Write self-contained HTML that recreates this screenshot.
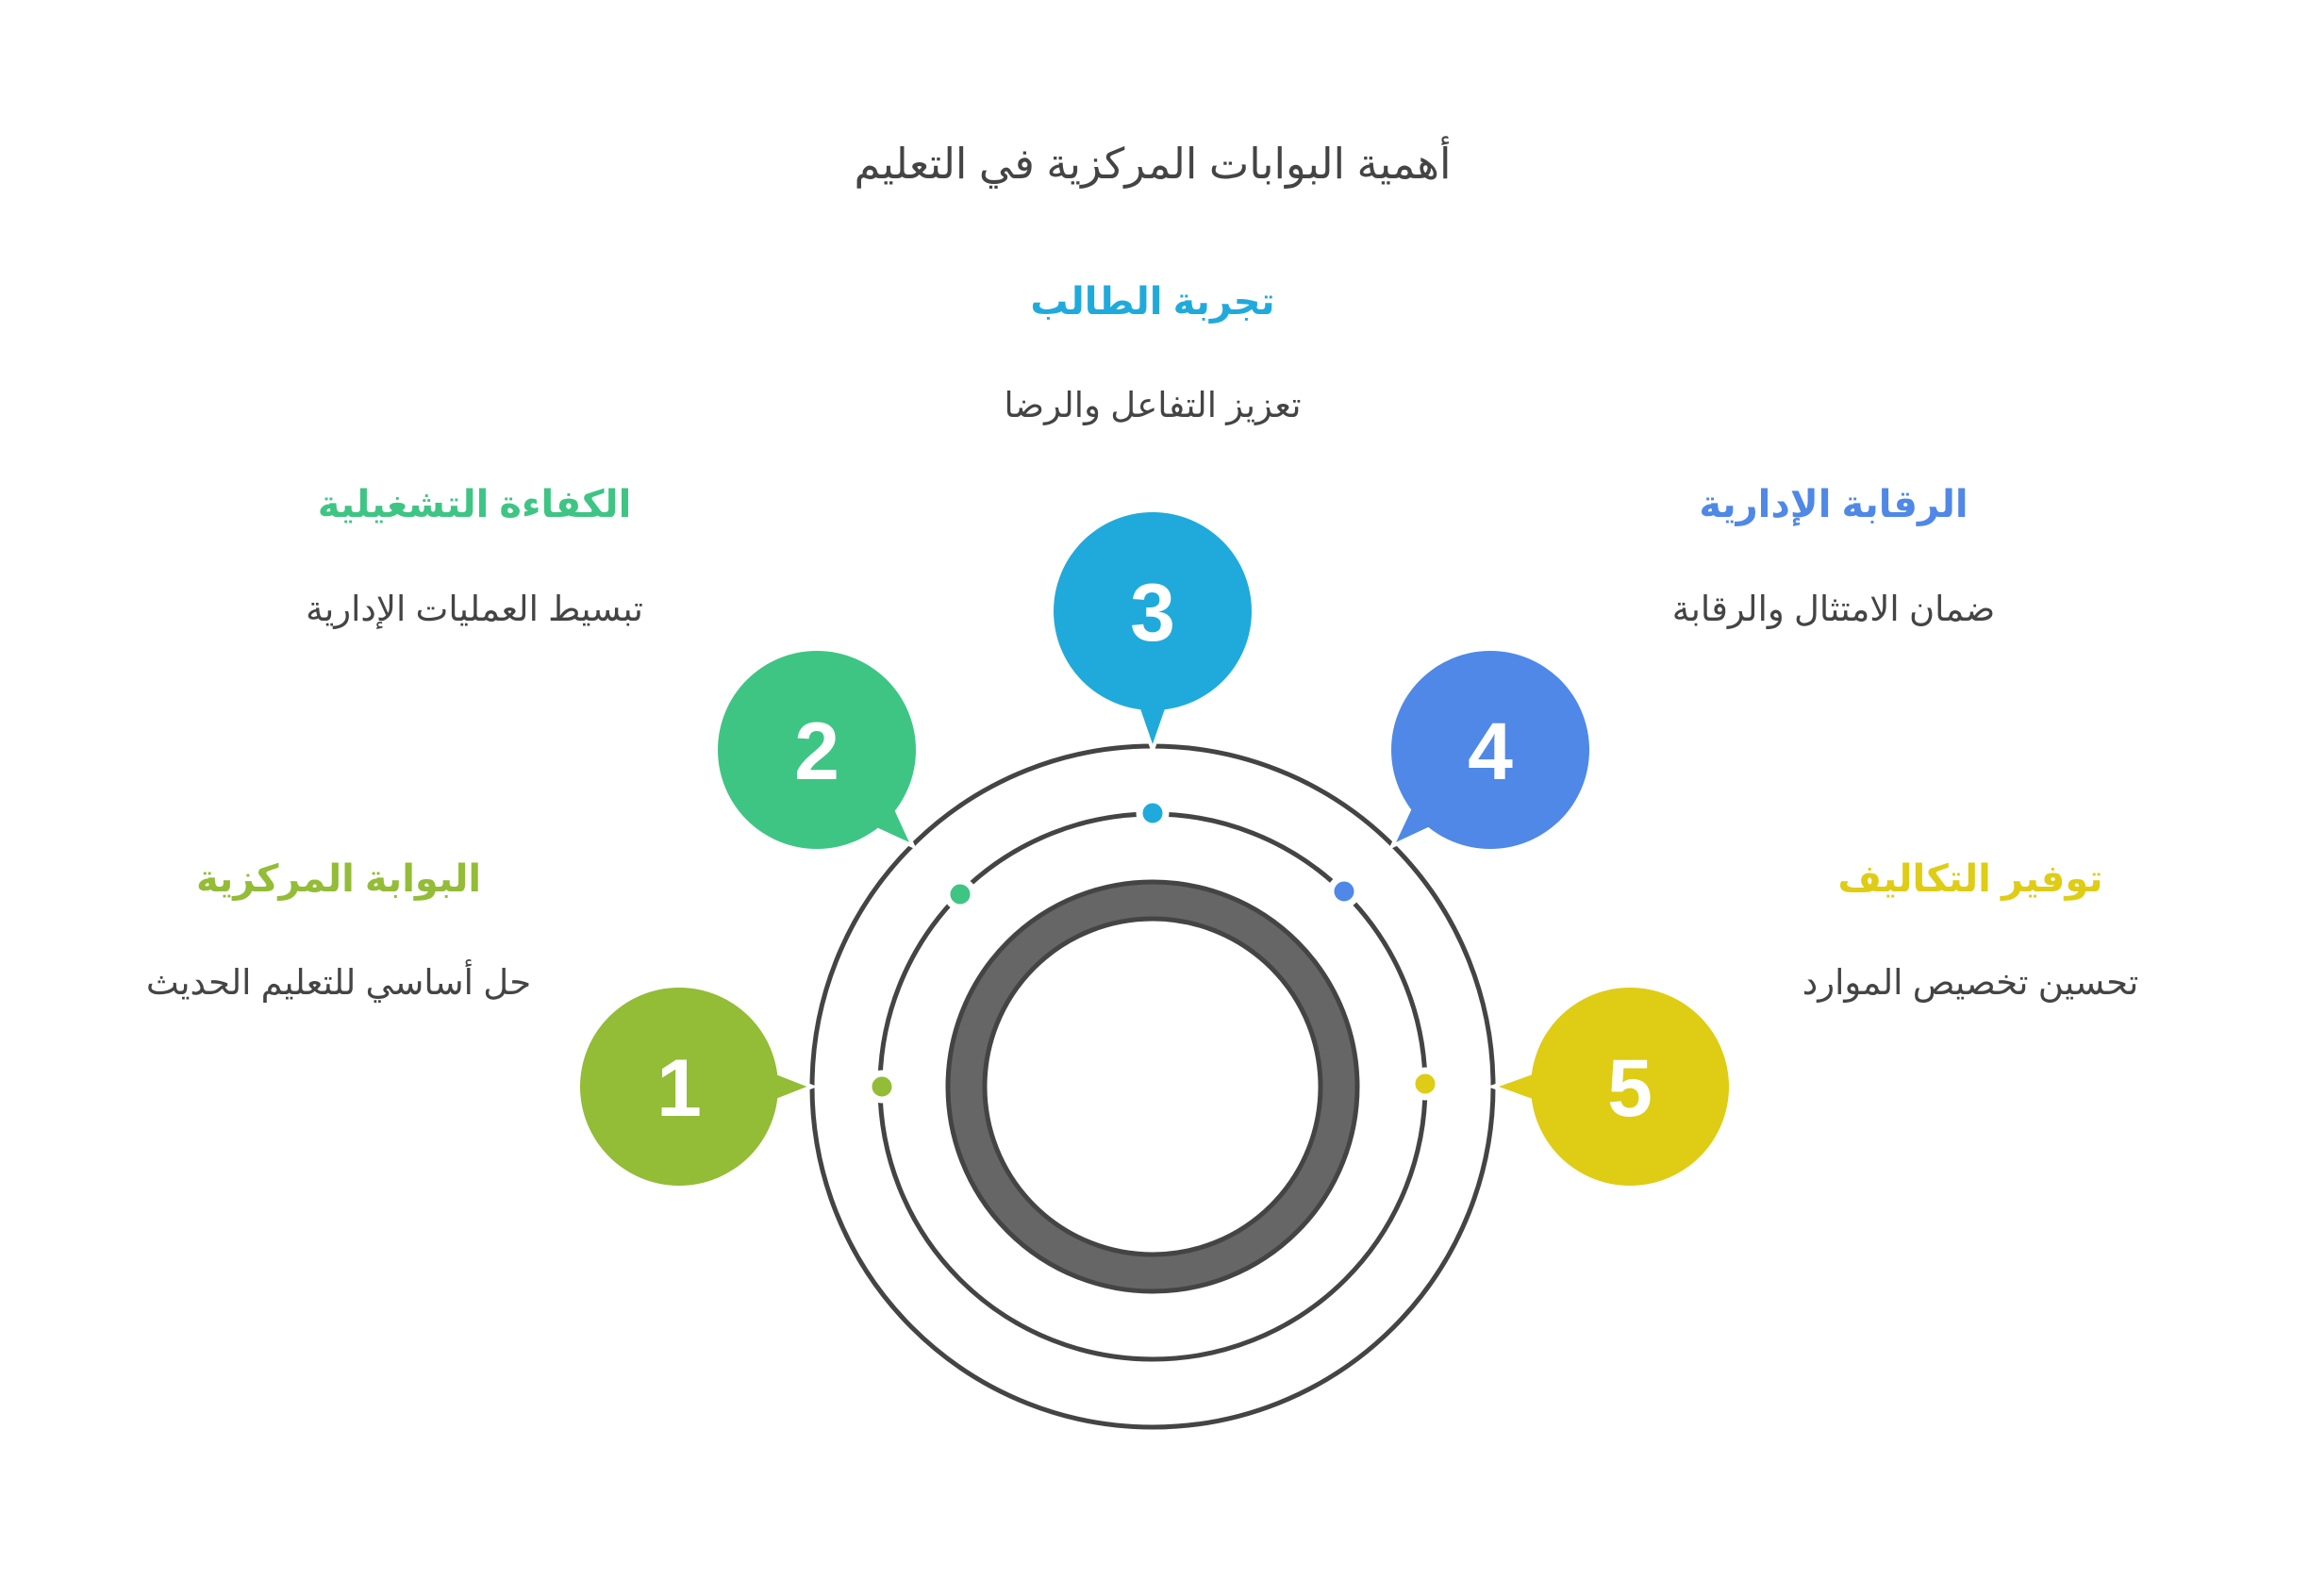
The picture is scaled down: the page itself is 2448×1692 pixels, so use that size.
<!DOCTYPE html>
<html><head><meta charset="utf-8"><style>
html,body{margin:0;padding:0;background:#fff}
svg{display:block}
text{font-family:"Liberation Sans","Noto Sans CJK SC","DejaVu Sans",sans-serif}
</style></head><body>
<svg width="2448" height="1692" viewBox="0 0 2448 1692" xmlns="http://www.w3.org/2000/svg">
<circle cx="1222" cy="1152" r="361" fill="none" stroke="#444" stroke-width="5"/>
<circle cx="1222" cy="1152" r="289" fill="none" stroke="#444" stroke-width="5"/>
<circle cx="1222" cy="1152" r="197.5" fill="none" stroke="#666" stroke-width="39"/>
<circle cx="1222" cy="1152" r="217" fill="none" stroke="#444" stroke-width="5"/>
<circle cx="1222" cy="1152" r="178" fill="none" stroke="#444" stroke-width="5"/>
<g stroke="#fff" stroke-width="7">
<circle cx="935" cy="1152" r="14" fill="#93bc37"/>
<circle cx="1018" cy="948" r="14" fill="#3ec584"/>
<circle cx="1222" cy="862" r="14" fill="#20aadb"/>
<circle cx="1425" cy="945" r="14" fill="#4f88e6"/>
<circle cx="1511" cy="1149" r="14" fill="#dfcc15"/>
</g>
<g stroke="#fff" stroke-width="4" stroke-linejoin="miter">
<polygon points="815,1134 861,1152 815,1170" fill="#93bc37"/>
<polygon points="920,875 968,897 946,849" fill="#3ec584"/>
<polygon points="1204,743 1222,795 1240,743" fill="#20aadb"/>
<polygon points="1525,874 1476,897 1499,848" fill="#4f88e6"/>
<polygon points="1633,1134 1583,1152 1633,1170" fill="#dfcc15"/>
</g>
<circle cx="720" cy="1152" r="105" fill="#93bc37"/>
<circle cx="866" cy="795" r="105" fill="#3ec584"/>
<circle cx="1222" cy="648" r="105" fill="#20aadb"/>
<circle cx="1580" cy="795" r="105" fill="#4f88e6"/>
<circle cx="1728" cy="1152" r="105" fill="#dfcc15"/>
<g fill="#fff" font-weight="bold" font-size="86" text-anchor="middle">
<text x="720" y="1183">1</text>
<text x="866" y="826">2</text>
<text x="1222" y="679">3</text>
<text x="1580" y="826">4</text>
<text x="1728" y="1183">5</text>
</g>
<text x="1222" y="189" font-size="45" fill="#444" text-anchor="middle" direction="rtl">أهمية البوابات المركزية في التعليم</text>
<g font-weight="bold" font-size="40" text-anchor="middle" direction="rtl">
<text x="1222" y="333" fill="#20aadb">تجربة الطالب</text>
<text x="503" y="548" fill="#3ec584">الكفاءة التشغيلية</text>
<text x="1944" y="548" fill="#4f88e6">الرقابة الإدارية</text>
<text x="359" y="945" fill="#93bc37">البوابة المركزية</text>
<text x="2089" y="945" fill="#dfcc15">توفير التكاليف</text>
</g>
<g font-size="37" fill="#444" text-anchor="middle" direction="rtl">
<text x="1222" y="442">تعزيز التفاعل والرضا</text>
<text x="503" y="658">تبسيط العمليات الإدارية</text>
<text x="1944" y="658">ضمان الامتثال والرقابة</text>
<text x="359" y="1054">حل أساسي للتعليم الحديث</text>
<text x="2089" y="1054">تحسين تخصيص الموارد</text>
</g>
</svg>
</body></html>
